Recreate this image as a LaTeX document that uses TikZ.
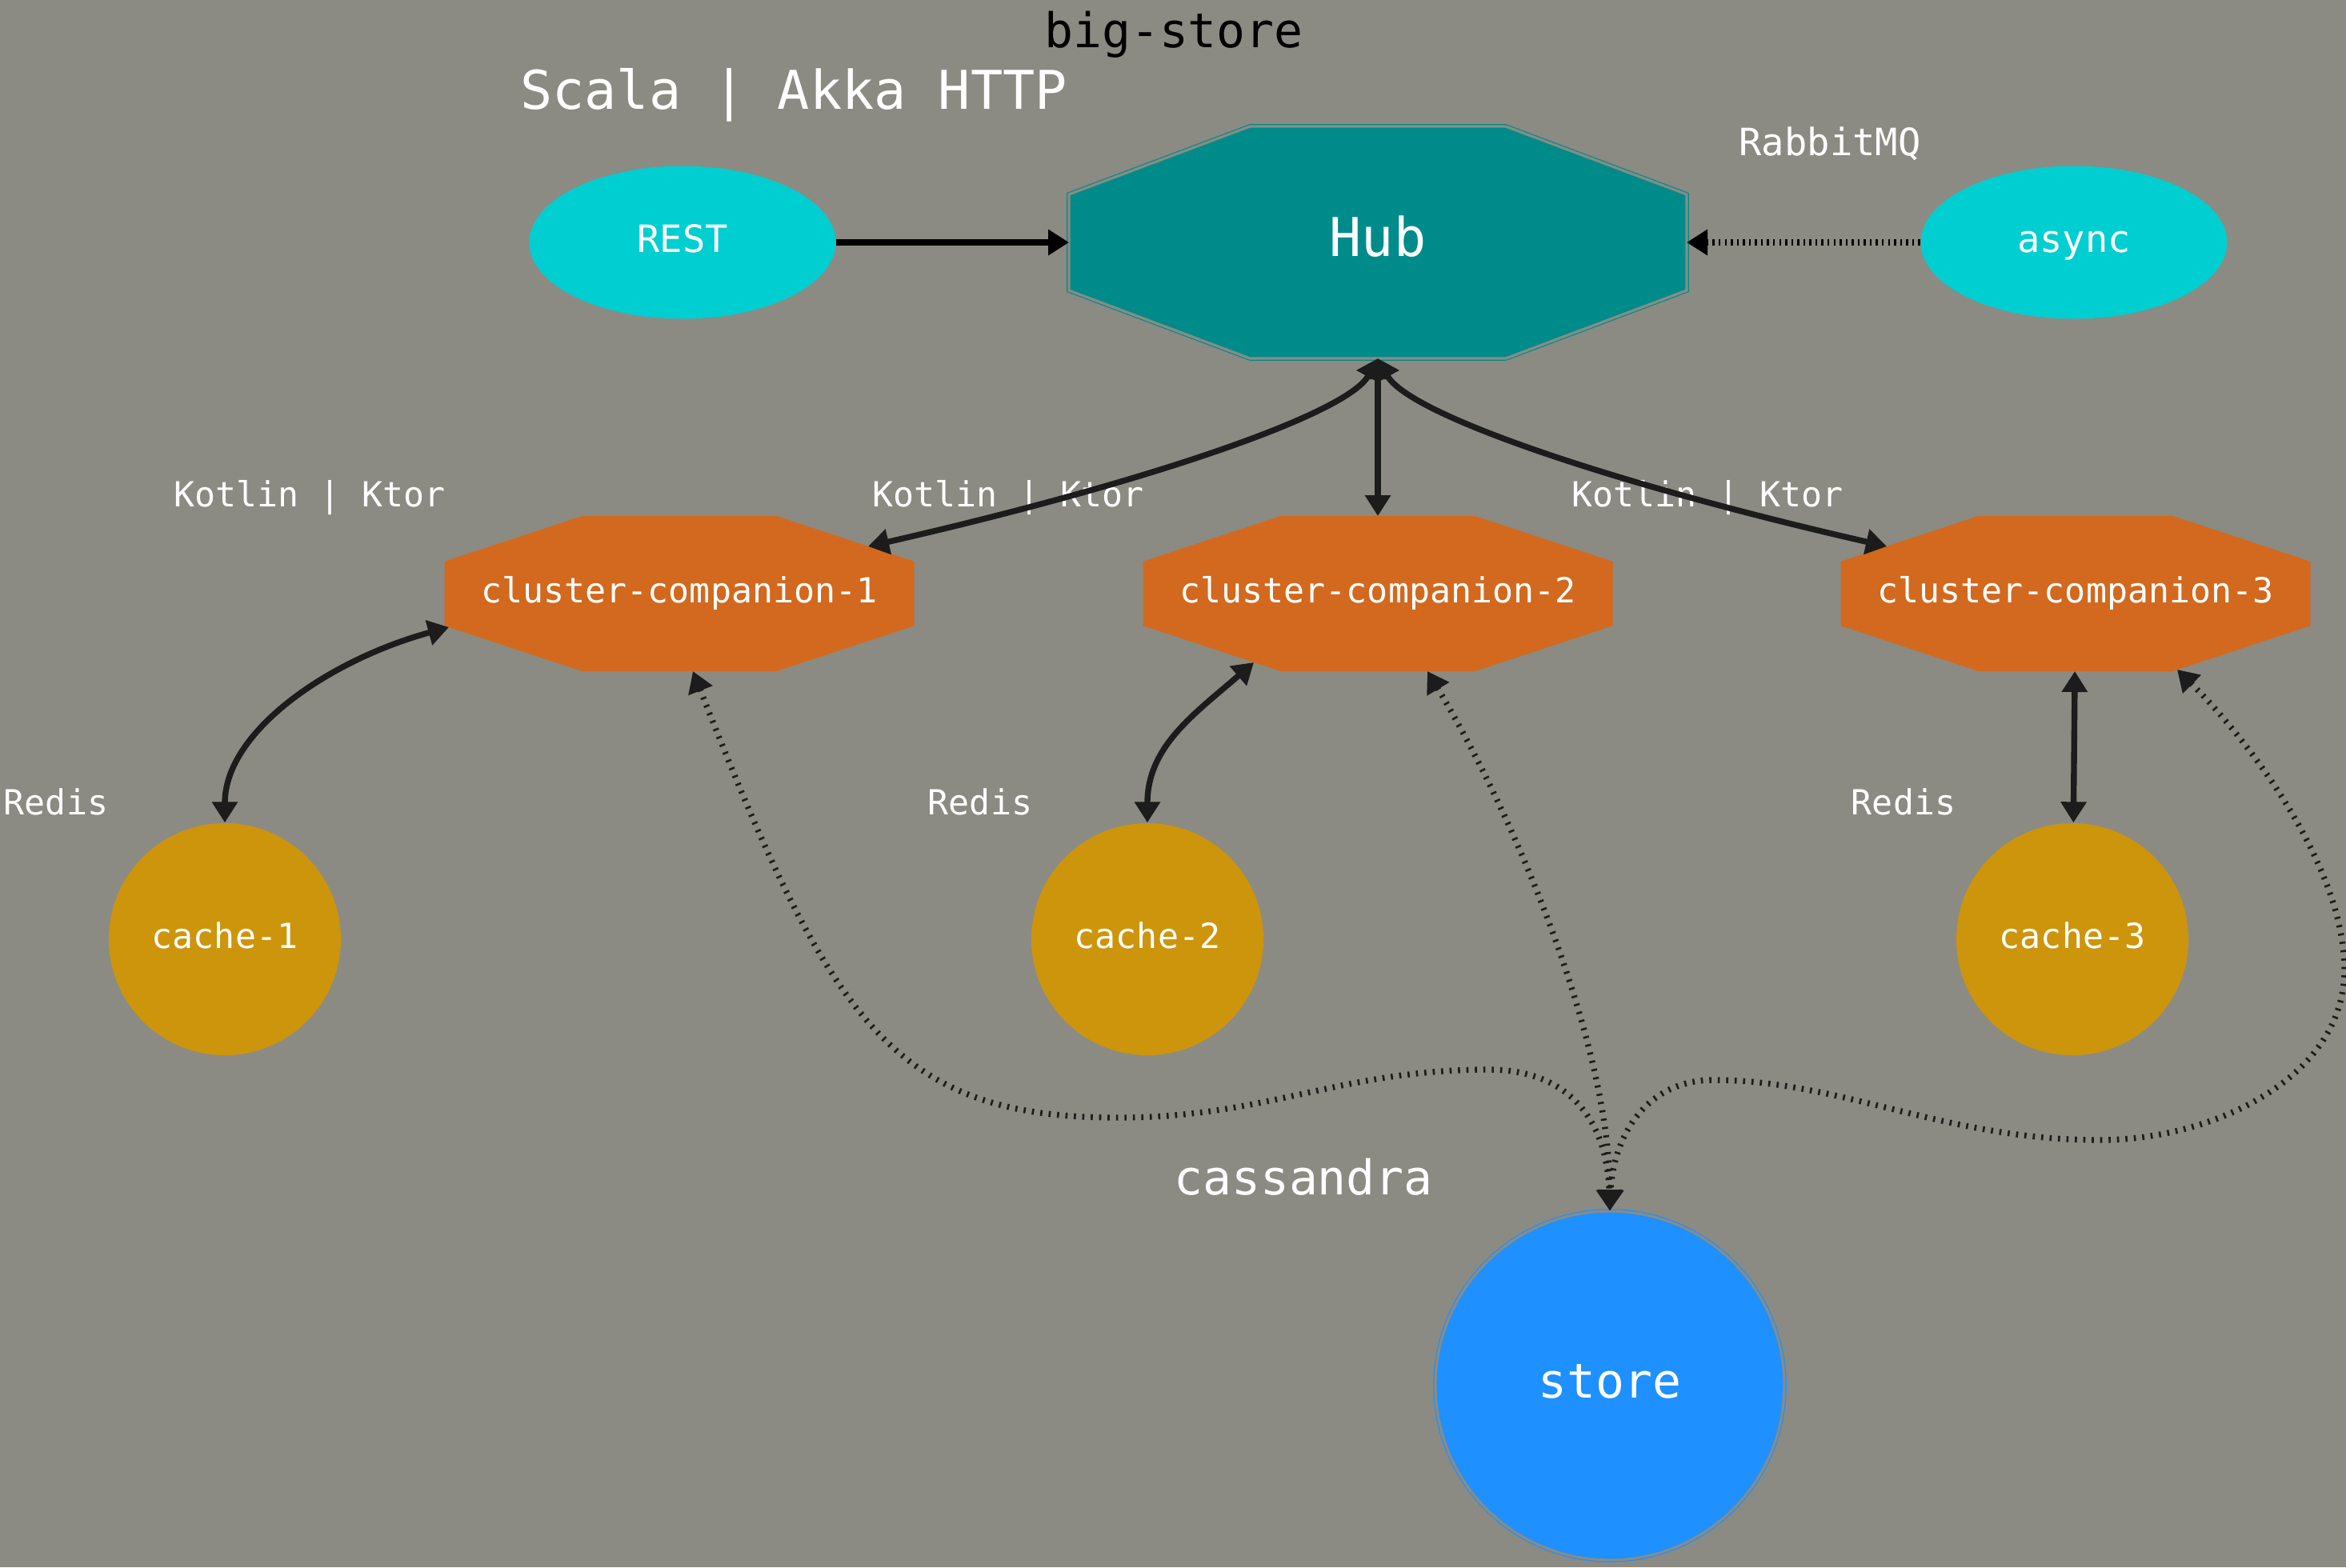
\documentclass[tikz,border=0pt]{standalone}
\usepackage{fontspec}
\setmainfont{DejaVu Sans Mono}
\usepackage{xcolor}
\usetikzlibrary{positioning}
\usetikzlibrary{arrows.meta}
\usetikzlibrary{shapes.geometric}
\usetikzlibrary{calc}
\usetikzlibrary{backgrounds}

\definecolor{bggray}{HTML}{8B8B83}
\definecolor{hubteal}{HTML}{008B8B}
\definecolor{apicyan}{HTML}{00CED1}
\definecolor{ccorange}{HTML}{D2691E}
\definecolor{cachegold}{HTML}{CD950C}
\definecolor{storeblue}{HTML}{1E90FF}
\definecolor{edgedark}{HTML}{1C1C1C}

%% octagon stretched to the box of a named node
\newcommand{\octshape}[2]{%
  \path[#2] ($(#1.north west)!0.2929!(#1.north east)$)
    -- ($(#1.north west)!0.7071!(#1.north east)$)
    -- ($(#1.north east)!0.2929!(#1.south east)$)
    -- ($(#1.north east)!0.7071!(#1.south east)$)
    -- ($(#1.south east)!0.2929!(#1.south west)$)
    -- ($(#1.south east)!0.7071!(#1.south west)$)
    -- ($(#1.south west)!0.2929!(#1.north west)$)
    -- ($(#1.south west)!0.7071!(#1.north west)$) -- cycle;}

\begin{document}
\begin{tikzpicture}[
    %% ── Node styles ─────────────────────────────────────────────
    hubnode/.style  ={rectangle, minimum width=7.72cm, minimum height=2.9cm,
                      inner sep=0pt, outer sep=0pt, text height=15.2pt, text depth=5.3pt,
                      text=white, font=\fontsize{19}{22}\selectfont},
    api/.style      ={ellipse, fill=apicyan, minimum width=3.83cm, minimum height=1.91cm,
                      inner sep=0pt, text height=10.7pt, text depth=3.75pt,
                      text=white, font=\fontsize{13.4}{16}\selectfont},
    comp/.style     ={rectangle, minimum width=5.87cm, minimum height=1.94cm,
                      inner sep=0pt, outer sep=0pt, text height=9.84pt, text depth=3.44pt,
                      text=white, font=\fontsize{12.3}{15}\selectfont},
    cache/.style    ={circle, fill=cachegold, minimum size=2.9cm, inner sep=0pt,
                      text height=9.84pt, text depth=3.44pt,
                      text=white, font=\fontsize{12.3}{15}\selectfont},
    storenode/.style={circle, fill=storeblue, draw=storeblue, line width=0.35pt,
                      double=bggray, double distance=0.9pt,
                      minimum size=4.36cm, inner sep=0pt,
                      text height=13.6pt, text depth=4.76pt,
                      text=white, font=\fontsize{17}{20}\selectfont},
    hubfill/.style  ={fill=hubteal, draw=hubteal, line width=0.35pt,
                      double=bggray, double distance=0.9pt},
    compfill/.style ={fill=ccorange},
    lbl/.style      ={anchor=base, inner sep=0pt, text=white,
                      font=\fontsize{12.3}{15}\selectfont},
    title/.style    ={anchor=base, inner sep=0pt, text=white,
                      font=\fontsize{17}{20}\selectfont},
    %% ── Edge styles ─────────────────────────────────────────────
    gvtip/.tip      ={Triangle[length=0.26cm, width=0.31cm]},
    oneway/.style   ={-gvtip, line width=2.1pt, draw=black},
    twoway/.style   ={gvtip-gvtip, line width=2.1pt, draw=edgedark},
    dotline/.style  ={dash pattern=on 0.7pt off 1.45pt},
    dbline/.style   ={dash pattern=on 0.75pt off 2.25pt}
]

    %% ── Canvas ──────────────────────────────────────────────────
    \useasboundingbox (0,0) rectangle (29.32,-19.59);
    \begin{scope}[on background layer]
        \fill[bggray] (0,0) rectangle (29.32,-19.59);
    \end{scope}

    %% ── Nodes ──────────────────────────────────────────────────
    \node[api]       (rest)   at (8.53, -3.03)  {REST};
    \node[hubnode]   (hub)    at (17.22,-3.03)  {Hub};
    \node[api]       (async)  at (25.92,-3.03)  {async};

    \node[comp]      (comp1)  at (8.49, -7.42)  {cluster-companion-1};
    \node[comp]      (comp2)  at (17.22,-7.42)  {cluster-companion-2};
    \node[comp]      (comp3)  at (25.94,-7.42)  {cluster-companion-3};

    \node[cache]     (cache1) at (2.81, -11.74) {cache-1};
    \node[cache]     (cache2) at (14.34,-11.74) {cache-2};
    \node[cache]     (cache3) at (25.90,-11.74) {cache-3};

    \node[storenode] (store)  at (20.12,-17.32) {store};

    %% ── Octagon bodies ─────────────────────────────────────────
    \begin{scope}[on background layer]
        \octshape{hub}{hubfill}
        \octshape{comp1}{compfill}
        \octshape{comp2}{compfill}
        \octshape{comp3}{compfill}
    \end{scope}

    %% ── Labels ─────────────────────────────────────────────────
    \node[title, text=black] (bigstore) at (14.67,-0.593) {big-store};
    \node[title, font=\fontsize{19}{22}\selectfont] (scala) at (9.92,-1.36) {Scala | Akka HTTP};
    \node[lbl, font=\fontsize{13.4}{16}\selectfont] (rabbit) at (22.87,-1.94) {RabbitMQ};
    \node[lbl]   (kotlin1)   at (3.87, -6.33)  {Kotlin | Ktor};
    \node[lbl]   (kotlin2)   at (12.60,-6.33)  {Kotlin | Ktor};
    \node[lbl]   (kotlin3)   at (21.34,-6.33)  {Kotlin | Ktor};
    \node[lbl]   (redis1)    at (0.70, -10.18) {Redis};
    \node[lbl]   (redis2)    at (12.25,-10.18) {Redis};
    \node[lbl]   (redis3)    at (23.79,-10.18) {Redis};
    \node[title] (cassandra) at (16.29,-14.93) {cassandra};

    %% ── Arrows ──────────────────────────────────────────────────
    \draw[oneway] (rest) -- (hub);
    \draw[oneway, dotline] (async) -- (hub);

    \draw[twoway] (hub.south) .. controls +(-0.39,-0.71) and +(3.37,0.77) .. ($(comp1)+(2.36,0.59)$);
    \draw[twoway] (hub) -- (comp2);
    \draw[twoway] (hub.south) .. controls +(0.39,-0.71) and +(-3.37,0.77) .. ($(comp3)+(-2.36,0.59)$);

    \draw[twoway] ($(comp1)+(-2.88,-0.42)$) .. controls +(-1.50,-0.41) and +(0,1.14) .. (cache1.north);
    \draw[twoway] ($(comp2)+(-1.55,-0.86)$) .. controls +(-0.75,-0.65) and +(0,0.95) .. (cache2.north);
    \draw[twoway] (comp3) -- (cache3);

    \draw[twoway, dbline] ($(comp1)+(0.17,-0.97)$) .. controls (10.38,-12.77) and (11.16,-13.97) .. (13.97,-13.97)
        .. controls (15.84,-13.97) and (16.74,-13.37) .. (18.61,-13.37)
        .. controls (19.54,-13.37) and (20.08,-13.93) .. (store.north);
    \draw[twoway, dbline] ($(comp2)+(0.62,-0.97)$) .. controls (18.98,-10.29) and (20.12,-13.09) .. (store.north);
    \draw[twoway, dbline] ($(comp3)+(1.27,-0.95)$) .. controls (28.14,-9.29) and (29.30,-10.85) .. (29.30,-12.12)
        .. controls (29.30,-13.46) and (27.68,-14.25) .. (26.24,-14.25)
        .. controls (24.31,-14.25) and (23.00,-13.50) .. (21.41,-13.50)
        .. controls (20.57,-13.50) and (20.16,-14.21) .. (store.north);

\end{tikzpicture}
\end{document}
